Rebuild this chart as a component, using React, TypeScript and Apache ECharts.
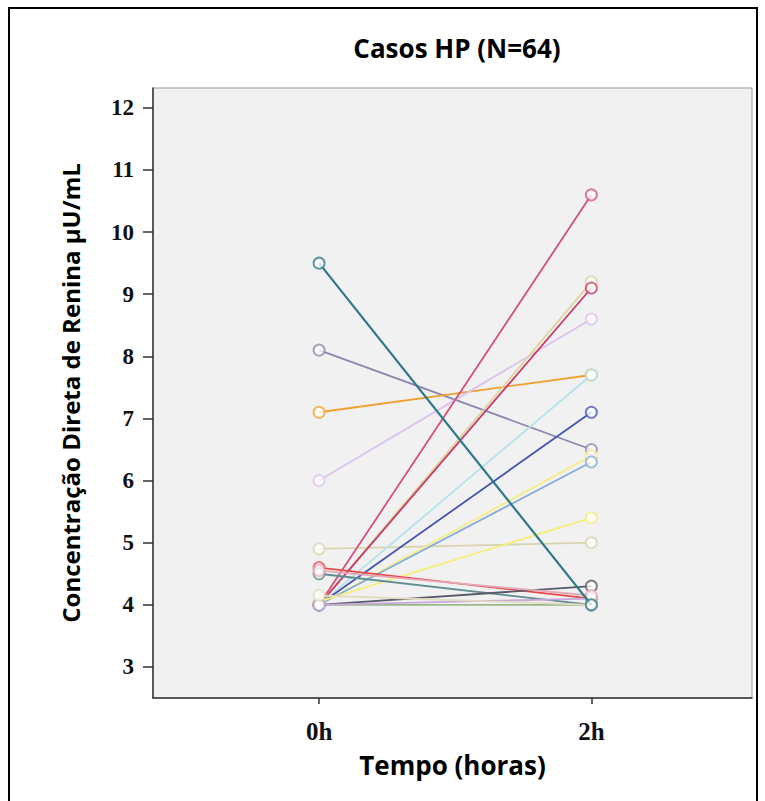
import React, { useEffect, useRef } from "react";
import * as echarts from "echarts";

const timeLabels = ["0h", "2h"];
const timeValues = [0, 2];
const yTicks = [3, 4, 5, 6, 7, 8, 9, 10, 11, 12];

const values0h = [9.5, 8.1, 7.1, 6.0, 4.9, 4.0, 4.0, 4.0, 4.0, 4.0, 4.0, 4.0, 4.05, 4.6, 4.5, 4.0, 4.0, 4.0, 4.55, 4.15];
const values2h = [4.0, 6.5, 7.7, 8.6, 5.0, 10.6, 9.2, 9.1, 7.7, 7.1, 6.4, 6.3, 5.4, 4.1, 4.0, 4.3, 4.0, 4.1, 4.15, 4.0];
const caseColors = [
  "#2b7888", "#8a86b0", "#f0a030", "#dcc2ee", "#d8d4b0", "#d4507c", "#dcd69a",
  "#c83a6c", "#b2e2ea", "#4656b0", "#f4ee80", "#86aadc", "#f4ee78", "#e84a4a",
  "#5e8c92", "#5a5a6a", "#98b888", "#c8a8dc", "#e4a8b8", "#e2dcc0",
];

export default function App() {
  const ref = useRef<HTMLDivElement>(null);
  useEffect(() => {
    if (!ref.current) return;
    const chart = echarts.init(ref.current, undefined, { renderer: "svg" });
    const series = values0h.map((v0, i) => ({
      type: "line",
      data: [
        [timeValues[0], v0],
        [timeValues[1], values2h[i]],
      ],
      symbol: "emptyCircle",
      symbolSize: 11,
      lineStyle: { color: caseColors[i], width: i === 0 ? 2.2 : 1.8 },
      itemStyle: { color: caseColors[i], borderColor: caseColors[i], borderWidth: 1.6, opacity: 0.75 },
      z: i === 0 ? 5 : 2,
    }));
    chart.setOption({
      animation: false,
      backgroundColor: "#ffffff",
      title: {
        text: "Casos HP (N=64)",
        left: 452,
        textAlign: "center",
        top: 30,
        textStyle: { fontFamily: "Open Sans", fontWeight: "bold", fontSize: 26, color: "#000" },
      },
      graphic: [
        {
          type: "rect",
          shape: { x: 9, y: 8, width: 748, height: 810 },
          style: { fill: "none", stroke: "#000", lineWidth: 2 },
          silent: true,
        },
      ],
      grid: {
        left: 153,
        top: 88,
        right: 13,
        bottom: 103,
        show: true,
        backgroundColor: "#f1f1f1",
        borderColor: "#9a9a9a",
        borderWidth: 1,
      },
      xAxis: {
        type: "value",
        min: -1.22,
        max: 3.18,
        name: "Tempo (horas)",
        nameLocation: "middle",
        nameGap: 54,
        nameTextStyle: { fontFamily: "Open Sans", fontWeight: "bold", fontSize: 26, color: "#000" },
        axisLine: { show: true, onZero: false, lineStyle: { color: "#333", width: 1.5 } },
        axisTick: { show: true, length: 6, customValues: timeValues, lineStyle: { color: "#333", width: 1.5 } },
        axisLabel: {
          customValues: timeValues,
          formatter: (v: number) => timeLabels[timeValues.indexOf(v)] ?? "",
          margin: 21,
          fontFamily: "Liberation Serif",
          fontWeight: "bold",
          fontSize: 25,
          color: "#111",
        },
        splitLine: { show: false },
      },
      yAxis: {
        type: "value",
        min: 2.5,
        max: 12.32,
        name: "Concentração Direta de Renina µU/mL",
        nameLocation: "middle",
        nameGap: 71,
        nameTextStyle: { fontFamily: "Open Sans", fontWeight: "bold", fontSize: 24, color: "#000" },
        axisLine: { show: true, onZero: false, lineStyle: { color: "#333", width: 1.5 } },
        axisTick: { show: true, length: 10, customValues: yTicks, lineStyle: { color: "#333", width: 1.5 } },
        axisLabel: {
          customValues: yTicks,
          margin: 19,
          fontFamily: "Liberation Serif",
          fontWeight: "bold",
          fontSize: 23,
          color: "#111",
        },
        splitLine: { show: false },
      },
      series,
    });
    return () => chart.dispose();
  }, []);
  return (
    <div
      ref={ref}
      style={{ position: "absolute", left: 0, top: 0, width: 765, height: 801 }}
    />
  );
}
